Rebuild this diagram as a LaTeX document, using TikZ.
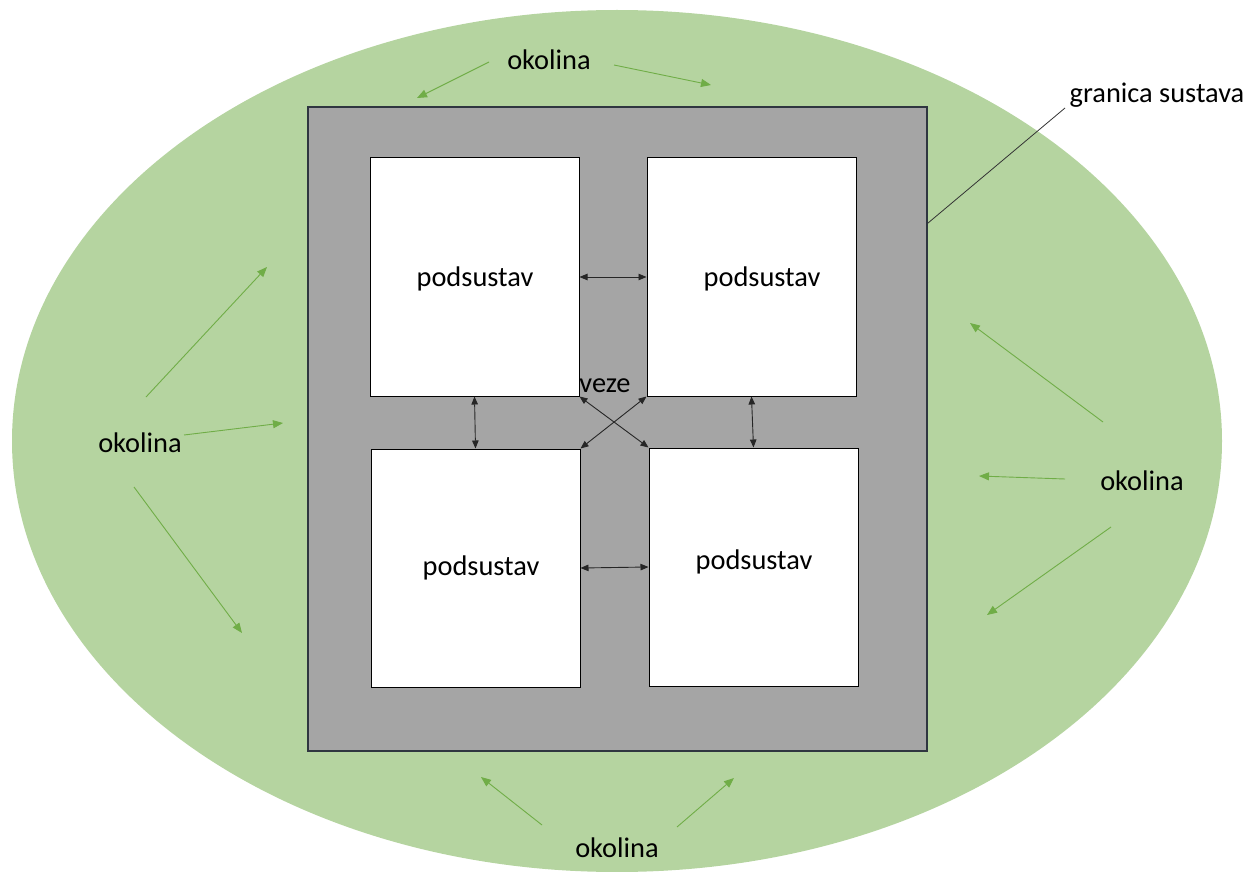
\documentclass[tikz,border=0pt]{standalone}
\usepackage{fontspec}
\setmainfont{Carlito}
\usetikzlibrary{arrows.meta,calc}
\definecolor{envfill}{HTML}{B5D4A0}
\definecolor{envarrow}{HTML}{70AD47}
\definecolor{sysfill}{HTML}{A5A5A5}
\definecolor{sysdraw}{HTML}{2F3640}
\begin{document}
\begin{tikzpicture}[x=1pt,y=-1pt,
  lbl/.style={font=\fontsize{28.4}{30}\selectfont, inner sep=0pt, text=black},
  subbox/.style={draw=black, line width=1pt, fill=white, minimum width=209pt, minimum height=238pt, inner sep=0pt},
  envarr/.style={draw=envarrow, line width=0.9pt, -{Triangle[length=10pt,width=8pt]}},
  linkarr/.style={draw=black!85, line width=0.9pt, {Triangle[length=8pt,width=6.5pt]}-{Triangle[length=8pt,width=6.5pt]}},
  leader/.style={draw=black!80, line width=0.8pt}]
\useasboundingbox (0,0) rectangle (1251,872);
% environment
\fill[envfill] (617,441) ellipse [x radius=605pt, y radius=431pt];
% system
\node[draw=sysdraw, line width=1.6pt, fill=sysfill, minimum width=619pt, minimum height=644pt, inner sep=0pt] (sys) at (617.5,429) {};
% subsystems
\node[subbox] (TL) at (474.5,277) {};
\node[subbox] (TR) at (751.5,277) {};
\node[subbox] (BL) at (475.5,568) {};
\node[subbox] (BR) at (753.5,567) {};
\node[lbl] (tlt) at (475,279) {podsustav};
\node[lbl] (trt) at (762,279) {podsustav};
\node[lbl] (blt) at (481,568) {podsustav};
\node[lbl] (brt) at (754,562) {podsustav};
\node[lbl] (veze) at (605,386) {veze};
% links
\draw[linkarr] (TL.east) -- (TR.west);
\draw[linkarr] (BL.east) -- (BR.west);
\draw[linkarr] (TL.south) -- (BL.north);
\draw[linkarr] (TR.south) -- (BR.north);
\draw[linkarr] (TL.south east) -- (BR.north west);
\draw[linkarr] (TR.south west) -- (BL.north east);
% labels okolina
\node[lbl] (oktop) at (549,60) {okolina};
\node[lbl] (okleft) at (140,443) {okolina};
\node[lbl] (okright) at (1142,481) {okolina};
\node[lbl] (okbot) at (617,848) {okolina};
\node[lbl] (gran) at (1157,95) {granica sustava};
% granica leader
\coordinate (gs) at ($(sys.north east)+(0,117)$);
\coordinate (ge) at (1065,108);
\draw[leader] (gs) -- (ge);
% environment arrows
\coordinate (t1s) at (489,62);  \coordinate (t1e) at (417,98);
\coordinate (t2s) at (614,65);  \coordinate (t2e) at (711,85);
\coordinate (l1s) at (146,397); \coordinate (l1e) at (267,267);
\coordinate (l2s) at (184,435); \coordinate (l2e) at (283,423);
\coordinate (l3s) at (134,487); \coordinate (l3e) at (242,633);
\coordinate (r1s) at (1103,422); \coordinate (r1e) at (970,323);
\coordinate (r2s) at (1065,479); \coordinate (r2e) at (979,476);
\coordinate (r3s) at (1111,527); \coordinate (r3e) at (987,615);
\coordinate (b1s) at (542,825); \coordinate (b1e) at (481,777);
\coordinate (b2s) at (677,827); \coordinate (b2e) at (734,778);
\foreach \a in {t1,t2,l1,l2,l3,r1,r2,r3,b1,b2}{
  \draw[envarr] (\a s) -- (\a e);
}
\end{tikzpicture}
\end{document}
